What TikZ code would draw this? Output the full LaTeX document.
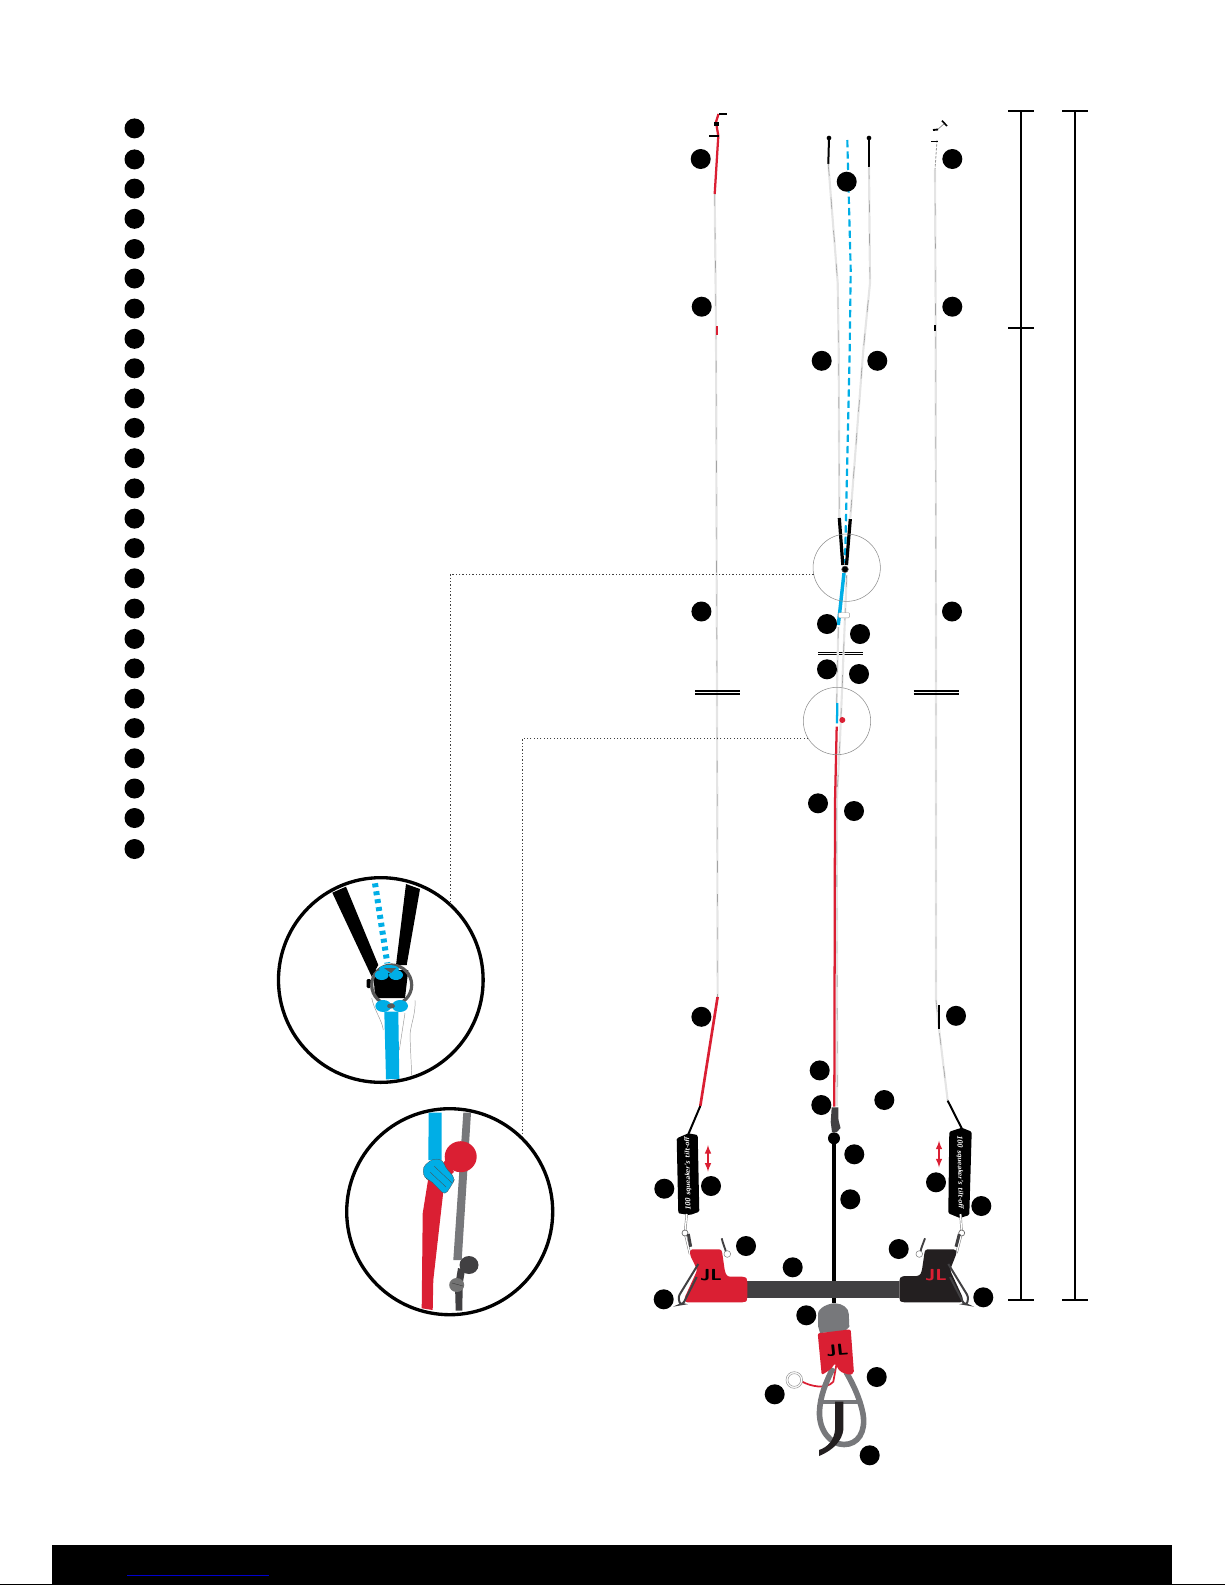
\documentclass[tikz,border=0pt]{standalone}
\usepackage{xcolor}
\usepackage{tikz}
\definecolor{jlred}{HTML}{DA1F33}
\definecolor{jlblue}{HTML}{00AEE6}
\definecolor{jlgrey}{HTML}{77787B}
\definecolor{jldark}{HTML}{414042}
\definecolor{jlblack}{HTML}{231F20}
\tikzset{
	calloutdot/.style={circle, fill=black, draw=none, inner sep=0, outer sep=0, minimum size=15pt},
	thinring/.style={circle, draw=black!45, line width=0.4pt, inner sep=0, outer sep=0, minimum size=50.5pt},
	zoomring/.style={circle, draw=black, line width=2.5pt, inner sep=0, outer sep=0, minimum size=153.5pt},
	leader/.style={draw=black!75, line width=0.75pt, dash pattern=on 0.9pt off 1.6pt},
	dimline/.style={draw=black, line width=1.5pt},
	rope/.style={draw=black!10, line width=1.6pt, postaction={draw=black!50, line width=0.25pt, dash pattern=on 9pt off 16pt}},
	redline/.style={draw=jlred, line width=1.7pt},
	blackline/.style={draw=black, line width=1.5pt},
	logotext/.style={font=\sffamily\bfseries\fontsize{12}{12}\selectfont, inner sep=0, xscale=1.25},
	handletext/.style={font=\sffamily\bfseries\itshape\fontsize{5.5}{6}\selectfont, text=white, inner sep=0},
	sizearrow/.style={draw=jlred, line width=1.2pt, <->, >=latex},
}
\begin{document}
\begin{tikzpicture}[x=0.75pt, y=-0.75pt]
	\useasboundingbox (0,0) rectangle (1225,1585);
	% Legend dots:
	\node[calloutdot] (Leg1) at (134.5, 128.4) {};
	\node[calloutdot] (Leg2) at (134.5, 159.4) {};
	\node[calloutdot] (Leg3) at (134.5, 188.6) {};
	\node[calloutdot] (Leg4) at (134.5, 218.8) {};
	\node[calloutdot] (Leg5) at (134.5, 249) {};
	\node[calloutdot] (Leg6) at (134.5, 278.5) {};
	\node[calloutdot] (Leg7) at (134.5, 308.6) {};
	\node[calloutdot] (Leg8) at (134.5, 338.8) {};
	\node[calloutdot] (Leg9) at (134.5, 368.3) {};
	\node[calloutdot] (Leg10) at (134.5, 398.4) {};
	\node[calloutdot] (Leg11) at (134.5, 427.9) {};
	\node[calloutdot] (Leg12) at (134.5, 458.2) {};
	\node[calloutdot] (Leg13) at (134.5, 488.4) {};
	\node[calloutdot] (Leg14) at (134.5, 518.6) {};
	\node[calloutdot] (Leg15) at (134.5, 548.1) {};
	\node[calloutdot] (Leg16) at (134.5, 578.3) {};
	\node[calloutdot] (Leg17) at (134.5, 608.6) {};
	\node[calloutdot] (Leg18) at (134.5, 638.9) {};
	\node[calloutdot] (Leg19) at (134.5, 668.4) {};
	\node[calloutdot] (Leg20) at (134.5, 698.6) {};
	\node[calloutdot] (Leg21) at (134.5, 728.1) {};
	\node[calloutdot] (Leg22) at (134.5, 758.3) {};
	\node[calloutdot] (Leg23) at (134.5, 788.5) {};
	\node[calloutdot] (Leg24) at (134.5, 818) {};
	\node[calloutdot] (Leg25) at (134.5, 849) {};
	% Left flying line:
	\draw[rope] (714.7, 194) -- (716, 330) -- (717, 700) -- (717.6, 997);
	\draw[redline] (718.3, 135.7) -- (714.7, 194);
	\draw[redline] (718.3, 136) -- (716, 122) -- (718.5, 114);
	\draw[draw=black, line width=0.9pt] (718.5, 114) -- (727, 114);
	\draw[draw=black, line width=1.6pt] (709, 135.7) -- (719, 135.7);
	\draw[draw=black, line width=2.4pt] (714, 124) -- (719, 124);
	\draw[draw=jlred, line width=1.5pt] (716.7, 326) -- (716.7, 335);
	\draw[draw=jlred, line width=2pt] (717.6, 997) -- (700.3, 1106);
	\draw[blackline] (700.3, 1106) -- (688, 1135);
	% Right flying line:
	\draw[rope] (935, 170) -- (935.7, 330) -- (936, 700) -- (936, 1000);
	\draw[draw=black!40, line width=0.6pt, dash pattern=on 2pt off 1pt] (937, 140) -- (935, 170);
	\draw[draw=black!50, line width=0.5pt] (937, 130) -- (945, 123);
	\draw[draw=black, line width=1.2pt] (942, 120.7) -- (947, 126);
	\draw[draw=black, line width=1.4pt] (933, 130) -- (938, 129.5);
	\draw[draw=black, line width=1.2pt] (931, 141.3) -- (938, 141.3);
	\draw[blackline] (935, 325) -- (935, 331);
	\draw[rope] (936, 1000) -- (939, 1029) -- (947.7, 1100.7);
	\draw[draw=black, line width=2.2pt] (939, 1005) -- (939, 1029);
	\draw[blackline] (947.7, 1100.7) -- (961.7, 1128.3);
	% Break marks:
	\draw[draw=black, line width=0.8pt] (695.4, 691) -- (739.8, 691);
	\draw[draw=black, line width=0.8pt] (695.4, 694) -- (739.8, 694);
	\draw[draw=black, line width=0.8pt] (913.7, 691) -- (959, 691);
	\draw[draw=black, line width=0.8pt] (913.7, 694) -- (959, 694);
	\draw[draw=black, line width=0.8pt] (818.3, 652.7) -- (862.7, 652.7);
	\draw[draw=black, line width=0.8pt] (818.3, 654.9) -- (862.7, 654.9);
	% Centre lines:
	\draw[blackline] (829, 138) -- (828.3, 164);
	\draw[blackline] (869, 136.7) -- (869, 167);
	\node[circle, fill=black, inner sep=0, minimum size=3.5pt] (TipL) at (829, 138) {};
	\node[circle, fill=black, inner sep=0, minimum size=3.5pt] (TipR) at (869, 138) {};
	\draw[rope] (828.3, 164) -- (837.7, 283) -- (838.7, 350) -- (839.3, 518);
	\draw[rope] (869, 167) -- (870, 283) -- (863.3, 350) -- (850.3, 518);
	\draw[draw=jlblue, line width=1.6pt, dash pattern=on 5.5pt off 3pt] (847.3, 140) -- (850.7, 270) -- (849.7, 350) -- (845, 563);
	\draw[draw=black, line width=2.4pt] (839.3, 518) -- (842.8, 565);
	\draw[draw=black, line width=2.4pt] (850.3, 519) -- (846.5, 565);
	\draw[rope] (846.7, 575) -- (845, 617) -- (840, 740) -- (836.7, 803) -- (837.3, 1080) -- (836.7, 1106);
	\draw[rope] (838.3, 627) -- (836.7, 703);
	\draw[draw=jlblue, line width=2.6pt] (844, 573) -- (838.3, 625);
	\draw[draw=jlblue, line width=1.7pt] (837.3, 703) -- (837, 723.3);
	\draw[draw=jlred, line width=1.7pt] (836.7, 726.7) -- (835, 803) -- (834.3, 1106.7);
	\node[circle, fill=black, draw=black!60, inner sep=0, minimum size=5pt] (RingSmall) at (845, 569.3) {};
	\node[rectangle, fill=white, draw=black!40, line width=0.3pt, rounded corners=0.8pt, inner sep=0, minimum width=8.5pt, minimum height=3.8pt] (TabWhite) at (844, 615.3) {};
	\node[circle, fill=jlred, inner sep=0, minimum size=4.5pt] (KnotRed) at (842.3, 720) {};
	\node[thinring] (Thin1) at (846.7, 567.7) {};
	\node[thinring] (Thin2) at (837, 721) {};
	% Handles and clips:
	\fill[black, rounded corners=1pt] (676.7, 1138.3) -- (688.3, 1133.3) -- (697.7, 1135) -- (699.3, 1211.7) -- (690, 1215) -- (678.3, 1213.3) -- cycle;
	\node[handletext, rotate=91] (TextHandleL) at (688, 1174) {100 squeaker's tilt-off};
	\fill[black, rounded corners=1pt] (949.3, 1131.7) -- (961.7, 1127.7) -- (971.7, 1131.7) -- (969.3, 1215) -- (960, 1218) -- (948.3, 1213.3) -- cycle;
	\node[handletext, rotate=-89] (TextHandleR) at (960, 1172) {100 squeaker's tilt-off};
	\draw[sizearrow] (708, 1145) -- (708, 1171.7);
	\draw[sizearrow] (939, 1140.7) -- (939, 1167.3);
	\draw[draw=black!55, line width=1.7pt] (686.7, 1214) -- (685, 1233) -- (690, 1254);
	\draw[draw=white, line width=1pt] (686.7, 1214) -- (685, 1233) -- (690, 1254);
	\draw[draw=black!55, line width=1.7pt] (960.5, 1214) -- (961.7, 1233) -- (956.5, 1253);
	\draw[draw=white, line width=1pt] (960.5, 1214) -- (961.7, 1233) -- (956.5, 1253);
	\node[circle, draw=black!60, fill=white, inner sep=0, line width=0.5pt, minimum size=4.5pt] (ClipL) at (685, 1233) {};
	\node[circle, draw=black!60, fill=white, inner sep=0, line width=0.5pt, minimum size=4.5pt] (ClipR) at (961.7, 1233) {};
	\draw[draw=jldark, line width=2.2pt] (688.3, 1234) -- (690.7, 1246.7);
	\draw[draw=jldark, line width=2.2pt] (959.3, 1234) -- (956, 1246.7);
	% Bar:
	\draw[draw=black, line width=3.6pt] (834, 1140) -- (834, 1303);
	\node[circle, fill=black, inner sep=0, minimum size=9pt] (SwivelBall) at (834, 1138.3) {};
	\fill[jldark] (831.7, 1107.3) -- (838.3, 1107.3) -- (838.5, 1120) -- (840.5, 1128) -- (837, 1132) -- (832, 1132) -- (830.7, 1122) -- cycle;
	\fill[jldark] (747.3, 1281) rectangle (899.3, 1297.7);
	\fill[jlred, rounded corners=2pt] (690, 1249.3) -- (721.7, 1249.3) -- (725, 1272) -- (727.3, 1276.7) -- (745, 1276.7) -- (747.3, 1279.3) -- (747.3, 1300) -- (745, 1302.3) -- (685, 1302.3) -- (684.3, 1298.3) -- (697.3, 1270) -- (690, 1255) -- cycle;
	\fill[jlblack, rounded corners=2pt] (956, 1249.3) -- (925, 1249.3) -- (921.7, 1271.7) -- (919.3, 1276) -- (901.7, 1276) -- (899.3, 1279.3) -- (899.3, 1300) -- (901.7, 1302.3) -- (962.7, 1302.3) -- (963, 1298) -- (950, 1270) -- (956.7, 1253) -- cycle;
	\node[logotext, text=black] (LogoL) at (711, 1275) {JL};
	\node[logotext, text=jlred] (LogoR) at (936, 1275) {JL};
	\draw[draw=jldark, line width=1.5pt, rounded corners=2pt] (698.3, 1264) -- (678.3, 1296.7) -- (680, 1304.5) -- (683, 1304) -- (696.7, 1277);
	\draw[draw=jldark, line width=1.5pt, rounded corners=2pt] (948.3, 1264) -- (968.3, 1296.7) -- (967, 1304.5) -- (964, 1304) -- (950, 1277);
	\draw[draw=jldark, line width=1.4pt] (721.7, 1238.3) .. controls (723, 1244) and (725, 1248) .. (726, 1252);
	\draw[draw=jldark, line width=1.4pt] (925, 1238.3) .. controls (923, 1244) and (921, 1248) .. (920.5, 1252);
	\node[circle, draw=black!50, fill=white, inner sep=0, line width=0.4pt, minimum size=5pt] (PinL) at (727.3, 1254) {};
	\node[circle, draw=black!50, fill=white, inner sep=0, line width=0.4pt, minimum size=5pt] (PinR) at (919.3, 1254) {};
	% Chicken loop:
	\draw[draw=jlred, line width=1.3pt] (802.3, 1381.7) .. controls (810, 1386) and (826, 1390) .. (833.3, 1381.7) -- (836.7, 1363);
	\node[circle, draw=black!40, fill=white, inner sep=0, line width=0.4pt, minimum size=12.5pt] (RingOuter) at (794.3, 1380) {};
	\node[circle, draw=black!40, fill=white, inner sep=0, line width=0.4pt, minimum size=9.5pt] (RingInner) at (794.3, 1380) {};
	\draw[draw=jlgrey, line width=4.2pt] (833, 1368) .. controls (826, 1382) and (820, 1396) .. (819.5, 1412) .. controls (819, 1430) and (830, 1444.5) .. (844, 1444.5) .. controls (858, 1444.5) and (866, 1432) .. (863, 1414) .. controls (860, 1398) and (852, 1382) .. (846, 1372);
	\draw[draw=jlgrey, line width=3.5pt] (822, 1402) -- (858, 1402);
	\fill[jlblack] (835, 1401.7) -- (843.3, 1401.7) -- (843.3, 1430) .. controls (842, 1440) and (834, 1450) .. (819, 1456) -- (819, 1450) .. controls (828, 1447) and (834, 1440) .. (835, 1430) -- cycle;
	\fill[jlgrey] (818, 1314) .. controls (818, 1308) and (828, 1303.3) .. (835, 1303.3) .. controls (842, 1303.3) and (849, 1308) .. (848.8, 1314) -- (849.3, 1326.7) -- (845, 1331) -- (820, 1333) -- (818, 1326) -- cycle;
	\fill[jlred, rounded corners=1.5pt] (817.7, 1333.3) -- (850.7, 1329.3) -- (854, 1373.3) -- (850, 1375) -- (840, 1371.7) -- (835, 1363.3) -- (830.7, 1369.3) -- (821.7, 1375) -- cycle;
	\node[logotext, text=black, rotate=5] (LogoLoop) at (837.3, 1350) {JL};
	% Detail one:
	\fill[black] (332.3, 892.7) -- (346, 886.7) -- (378.3, 965) -- (371.7, 976.7) -- cycle;
	\fill[black] (406, 884) -- (420, 889) -- (406.7, 965) -- (396, 965) -- cycle;
	\draw[draw=jlblue, line width=4.5pt, dash pattern=on 3pt off 3pt] (375, 883.3) -- (387.3, 963.3);
	\fill[black] (373.3, 970) -- (408.3, 970) -- (405, 998) -- (375, 998) -- cycle;
	\fill[black, rounded corners=1pt] (366.5, 979) rectangle (371, 988);
	\draw[draw=black!40, line width=0.35pt] (371.7, 998) .. controls (374, 1010) and (382, 1020) .. (383.3, 1030);
	\draw[draw=black!40, line width=0.35pt] (415, 1000) .. controls (416, 1015) and (410, 1025) .. (410, 1036.7) -- (411.7, 1075);
	\draw[draw=black!40, line width=0.35pt] (405, 1013) -- (399.3, 1050);
	\node[circle, draw=black!65, line width=2.4pt, inner sep=0, outer sep=0, minimum width=30pt] (KeyRing) at (391.7, 985) {};
	\fill[jlblue] (384.3, 1011.7) -- (398.3, 1011.7) -- (399.3, 1079) -- (386, 1079.3) -- cycle;
	\fill[jlblue] (381.7, 975) ellipse (7 and 5);
	\fill[jlblue] (396, 975) ellipse (7 and 5);
	\fill[jlblue] (389, 969) ellipse (10 and 4);
	\fill[black!65] (384, 968) -- (396, 968) -- (391, 973) -- cycle;
	\fill[jlblue] (383.3, 1006) ellipse (8 and 6);
	\fill[jlblue] (400, 1006) ellipse (8 and 6);
	\fill[black!65] (391, 1006) ellipse (4 and 2.5);
	\node[zoomring] (Zoom1) at (380.8, 980) {};
	% Detail two:
	\fill[jlblue] (428.7, 1112.7) -- (441.7, 1112.7) -- (441.7, 1160) -- (428.3, 1160) -- cycle;
	\fill[jlgrey] (463.3, 1112.7) -- (471, 1112.7) -- (461.7, 1260) -- (453.3, 1260) -- cycle;
	\fill[jldark] (455, 1285) -- (462.7, 1285) -- (462.3, 1310.7) -- (455.7, 1310.7) -- cycle;
	\fill[jlred] (428.3, 1178.3) -- (443.3, 1191.7) -- (433.3, 1280) -- (432.7, 1310) -- (421.7, 1308.3) -- (422.7, 1213.3) -- cycle;
	\fill[jlred] (460.7, 1156.7) ellipse (16 and 15.5);
	\fill[jlred] (447, 1158) -- (454, 1172) -- (447, 1178) -- (441, 1166) -- cycle;
	\fill[jlblue, draw=black!70, line width=0.2pt, rounded corners=3pt] (422.7, 1167) -- (433, 1158.5) -- (443, 1160) -- (445, 1167) -- (455, 1178) -- (453, 1183) -- (445, 1195) -- (430, 1180) -- (424, 1178) -- cycle;
	\draw[draw=black!70, line width=0.25pt] (434, 1166) -- (452, 1183);
	\draw[draw=black!70, line width=0.25pt] (430, 1172) -- (446, 1187);
	\fill[jldark] (469, 1265) ellipse (9.5 and 9);
	\fill[jldark] (458, 1268) -- (465, 1270) -- (463, 1282) -- (456, 1280) -- cycle;
	\fill[black!55] (456.7, 1285) ellipse (7.5 and 7);
	\draw[draw=black!80, line width=0.25pt] (452, 1283) -- (463, 1286);
	\node[zoomring, minimum size=154.5pt] (Zoom2) at (449.7, 1211.7) {};
	% Leaders from the rings:
	\draw[leader] (Thin1.191) -| (Zoom1.47);
	\draw[leader] (Thin2.211) -| (Zoom2.45);
	% Callouts along the lines:
	\node[calloutdot] (Call1) at (700.7, 159) {};
	\node[calloutdot] (Call2) at (701.7, 306.7) {};
	\node[calloutdot] (Call3) at (701.4, 611.5) {};
	\node[calloutdot] (Call4) at (701.4, 1016.8) {};
	\node[calloutdot] (Call5) at (952.3, 159) {};
	\node[calloutdot] (Call6) at (952.3, 306.7) {};
	\node[calloutdot] (Call7) at (952, 611.5) {};
	\node[calloutdot] (Call8) at (956, 1015.8) {};
	\node[calloutdot] (Call9) at (846.7, 181.7) {};
	\node[calloutdot] (Call10) at (821.7, 360.8) {};
	\node[calloutdot] (Call11) at (877.3, 360.8) {};
	\node[calloutdot] (Call12) at (827, 624) {};
	\node[calloutdot] (Call13) at (860, 634) {};
	\node[calloutdot] (Call14) at (827, 669.3) {};
	\node[calloutdot] (Call15) at (859, 674) {};
	\node[calloutdot] (Call16) at (818, 803.3) {};
	\node[calloutdot] (Call17) at (854, 811) {};
	\node[calloutdot] (Call18) at (819.7, 1070.4) {};
	\node[calloutdot] (Call19) at (821.3, 1105) {};
	\node[calloutdot] (Call20) at (884.3, 1100) {};
	\node[calloutdot] (Call21) at (854.3, 1154.3) {};
	\node[calloutdot] (Call22) at (850.3, 1199.3) {};
	\node[calloutdot] (Call23) at (664.3, 1188.7) {};
	\node[calloutdot] (Call24) at (711, 1186) {};
	\node[calloutdot] (Call25) at (746, 1246) {};
	\node[calloutdot] (Call26) at (792.7, 1267.3) {};
	\node[calloutdot] (Call27) at (663.7, 1299.3) {};
	\node[calloutdot] (Call28) at (806.3, 1315.3) {};
	\node[calloutdot] (Call29) at (898.7, 1249) {};
	\node[calloutdot] (Call30) at (936, 1182.3) {};
	\node[calloutdot] (Call31) at (981.3, 1206) {};
	\node[calloutdot] (Call32) at (983.3, 1297.3) {};
	\node[calloutdot] (Call33) at (876.7, 1377) {};
	\node[calloutdot] (Call34) at (774.7, 1394.3) {};
	\node[calloutdot] (Call35) at (869.7, 1455.3) {};
	% Dimension lines:
	\coordinate (DimTopA) at (1021, 111);
	\coordinate (DimMidA) at (1021, 328.3);
	\coordinate (DimEndA) at (1021, 1299.7);
	\coordinate (DimTopB) at (1075, 111);
	\coordinate (DimEndB) at (1075, 1299.7);
	\draw[dimline] (DimTopA) -- (DimEndA);
	\draw[dimline] (DimTopB) -- (DimEndB);
	\draw[dimline] ([xshift=-9.75pt]DimTopA) -- ([xshift=9.75pt]DimTopA);
	\draw[dimline] ([xshift=-9.75pt]DimMidA) -- ([xshift=9.75pt]DimMidA);
	\draw[dimline] ([xshift=-9.75pt]DimEndA) -- ([xshift=9.75pt]DimEndA);
	\draw[dimline] ([xshift=-9.75pt]DimTopB) -- ([xshift=9.75pt]DimTopB);
	\draw[dimline] ([xshift=-9.75pt]DimEndB) -- ([xshift=9.75pt]DimEndB);
	% Foot band:
	\fill[black] (52, 1545) rectangle (1172, 1585);
	\draw[draw=black, line width=0.75pt] (0, 1584.5) -- (52, 1584.5);
	\draw[draw=black, line width=0.75pt] (1172, 1584.5) -- (1224.5, 1584.5);
	\draw[draw=blue!80!black, line width=0.75pt] (127, 1575.3) -- (269, 1575.3);
\end{tikzpicture}
\end{document}
